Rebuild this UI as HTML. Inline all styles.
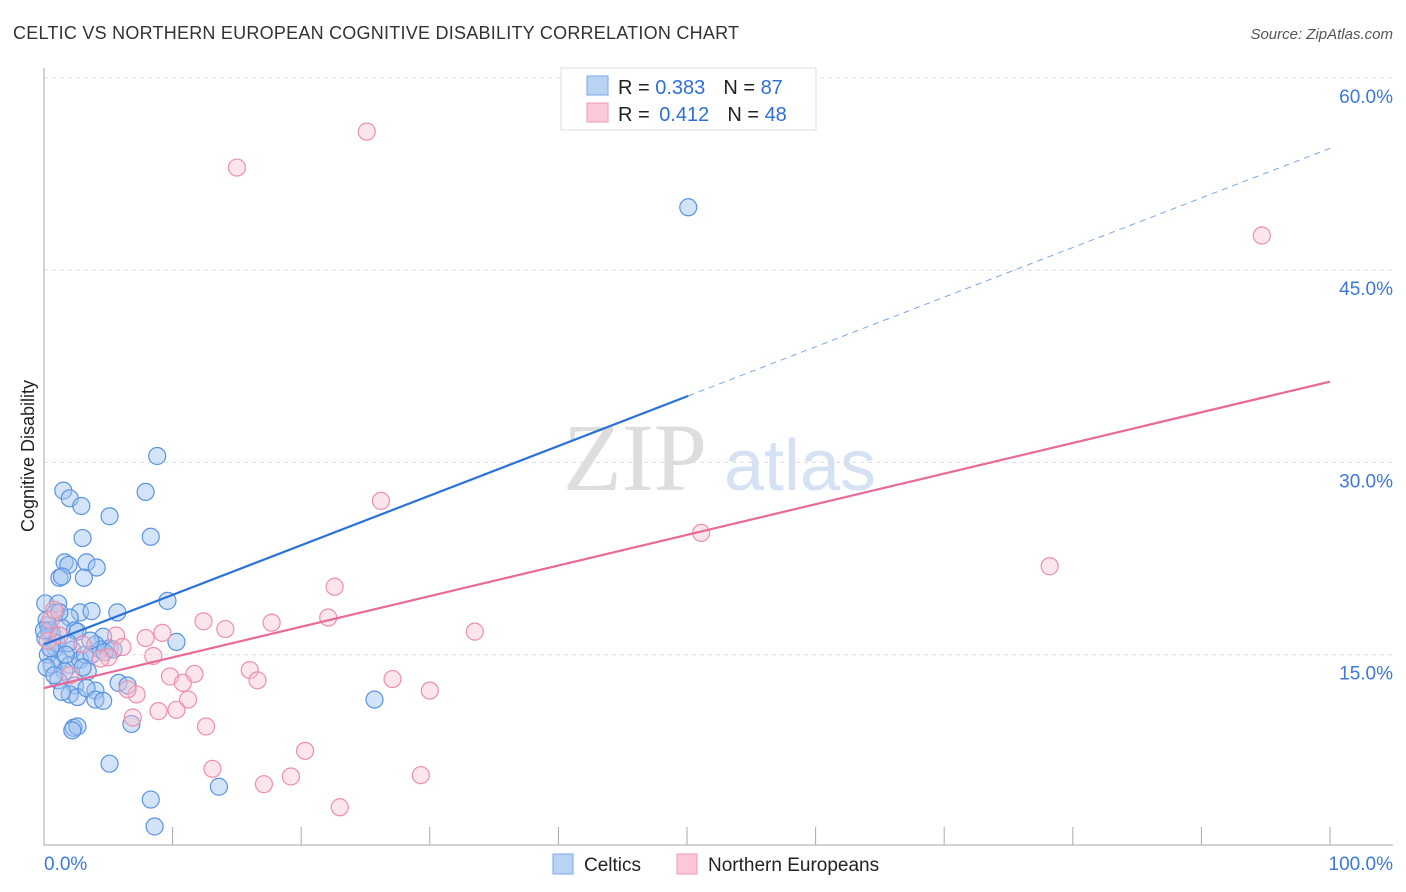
<!DOCTYPE html>
<html><head><meta charset="utf-8"><style>
body{margin:0;background:#fff;font-family:"Liberation Sans",sans-serif;}
svg{display:block}
</style></head><body>
<svg id="chart" width="1406" height="892">
<text x="13" y="39" font-size="18" fill="#333" textLength="726">CELTIC VS NORTHERN EUROPEAN COGNITIVE DISABILITY CORRELATION CHART</text>
<text x="1393" y="39" font-size="15" fill="#555" font-style="italic" text-anchor="end">Source: ZipAtlas.com</text>
<text x="635" y="490" font-size="96" fill="#ddd" font-family="Liberation Serif" text-anchor="middle">ZIP</text>
<text x="800" y="490" font-size="72" fill="#d4e2f4" text-anchor="middle">atlas</text>
<text transform="translate(34,456) rotate(-90)" font-size="18" fill="#222" text-anchor="middle">Cognitive Disability</text>
<g id="grid"></g><g id="axes"></g><g id="pts"></g><g id="lines"></g>
<g>
<rect x="561" y="68" width="255" height="62" fill="#fff" stroke="#ddd"/>
<rect x="587" y="76" width="21" height="19" fill="#b9d3f5" stroke="#7aa6e6"/>
<rect x="587" y="103" width="21" height="19" fill="#fbc8d8" stroke="#ef9ab6"/>
<text x="618" y="94" font-size="20" fill="#222">R = <tspan fill="#2f6fd6">0.383</tspan><tspan dx="18" fill="#222">N = </tspan><tspan fill="#2f6fd6">87</tspan></text>
<text x="618" y="121" font-size="20" fill="#222">R = <tspan dx="4" fill="#2f6fd6">0.412</tspan><tspan dx="18" fill="#222">N = </tspan><tspan fill="#2f6fd6">48</tspan></text>
</g>
<g>
<rect x="553" y="854" width="20" height="20" fill="#b9d3f5" stroke="#7aa6e6"/>
<text x="584" y="871" font-size="19" fill="#222">Celtics</text>
<rect x="677" y="854" width="20" height="20" fill="#fbc8d8" stroke="#ef9ab6"/>
<text x="708" y="871" font-size="19" fill="#222">Northern Europeans</text>
</g>
</svg>
<script>
const blueX=[8.8,1.5,2.0,2.9,7.9,5.1,8.3,3.0,1.6,1.9,3.3,4.1,1.2,1.4,3.1,9.6,0.1,1.1,2.8,3.7,5.7,0.9,2.0,0.3,1.4,2.4,0.6,0.1,2.6,4.6,4.0,5.1,4.4,10.3,0.9,2.2,0.3,1.2,0.6,2.0,2.8,1.6,3.4,0.2,1.1,2.4,4.0,5.8,6.5,2.0,2.6,3.3,4.0,4.6,1.4,2.3,2.6,2.2,6.8,5.1,8.3,13.6,8.6,25.7,50.1,1.0,0.5,3.2,3.7,4.7,5.4,1.9,0.2,0.4,1.7,3.6,0.8,3.0,1.2,0.0];
const blueY=[30.5,27.8,27.2,26.6,27.7,25.8,24.2,24.1,22.2,22.0,22.2,21.8,21.0,21.1,21.0,19.2,19.0,19.0,18.3,18.4,18.3,18.3,17.9,17.3,17.1,16.9,16.7,16.3,16.8,16.4,15.8,15.5,15.4,16.0,15.5,15.4,15.0,14.6,14.2,14.2,14.6,13.7,13.7,14.0,13.0,12.6,12.2,12.8,12.6,11.9,11.7,12.4,11.5,11.4,12.1,9.3,9.4,9.1,9.6,6.5,3.7,4.7,1.6,11.5,49.9,15.9,15.5,15.0,15.0,15.2,15.4,15.9,17.7,16.9,15.0,16.1,13.4,14.0,18.3,16.9];
const pinkX=[25.1,15.0,94.7,26.2,51.1,78.2,22.6,22.1,17.7,33.5,12.4,14.1,9.2,7.9,5.6,6.1,8.5,5.0,9.8,11.7,10.8,16.0,16.6,27.1,30.0,7.2,6.5,11.2,8.9,10.3,6.9,12.6,20.3,13.1,17.1,19.2,29.3,23.0,0.5,0.3,1.2,2.0,4.4,0.8,3.0];
const pinkY=[55.8,53.0,47.7,27.0,24.5,21.9,20.3,17.9,17.5,16.8,17.6,17.0,16.7,16.3,16.5,15.6,14.9,14.8,13.3,13.5,12.8,13.8,13.0,13.1,12.2,11.9,12.3,11.5,10.6,10.7,10.1,9.4,7.5,6.1,4.9,5.5,5.6,3.1,17.7,16.1,16.5,13.4,14.7,18.5,15.8];
const yTicks=[15,30,45,60];
const blueLine=[15.8,54.5]; // y at x=0 and x=100
const blueSolidEnd=50.1;
const pinkLine=[12.4,36.3];
const X=v=>44+v*12.86, Y=v=>847-v*12.82;
const NS='http://www.w3.org/2000/svg';
function mk(t,a,p){const e=document.createElementNS(NS,t);for(const k in a)e.setAttribute(k,a[k]);p.appendChild(e);return e;}
const grid=document.getElementById('grid'),axes=document.getElementById('axes'),pts=document.getElementById('pts'),lines=document.getElementById('lines');
yTicks.forEach(t=>{
 const l=mk('line',{x1:44,x2:1393,y1:Y(t),y2:Y(t),stroke:'#ddd','stroke-dasharray':'4,4'},grid);
 
 
 const tx=mk('text',{x:1393,y:Y(t)+25,'font-size':19,fill:'#3b78d8','text-anchor':'end'},grid);
 tx.textContent=t.toFixed(1)+'%';
 
 
});
mk('line',{x1:44,x2:44,y1:68,y2:845,stroke:'#aaa'},axes);
mk('line',{x1:44,x2:1393,y1:845,y2:845,stroke:'#aaa'},axes);
for(let i=1;i<=10;i++){const t=mk('line',{x1:X(i*10),x2:X(i*10),y1:827,y2:845,stroke:'#aaa'},axes);
 
 }
const xl=mk('text',{x:44,y:870,'font-size':19,fill:'#3b78d8'},axes);xl.textContent='0.0%';


const xr=mk('text',{x:1393,y:870,'font-size':19,fill:'#3b78d8','text-anchor':'end'},axes);xr.textContent='100.0%';


blueX.forEach((v,i)=>{const c=mk('circle',{cx:X(v),cy:Y(blueY[i]),r:8.5,fill:'rgba(160,196,240,0.45)',stroke:'#5b93e0','stroke-width':1.2},pts);
 
 });
pinkX.forEach((v,i)=>{const c=mk('circle',{cx:X(v),cy:Y(pinkY[i]),r:8.5,fill:'rgba(250,190,208,0.4)',stroke:'#ec8fae','stroke-width':1.2},pts);
 
 });
const by=x=>blueLine[0]+(blueLine[1]-blueLine[0])*x/100;
const b1=mk('line',{x1:X(0),y1:Y(by(0)),x2:X(blueSolidEnd),y2:Y(by(blueSolidEnd)),stroke:'#2a72d8','stroke-width':2.2},lines);


const b2=mk('line',{x1:X(blueSolidEnd),y1:Y(by(blueSolidEnd)),x2:X(100),y2:Y(by(100)),stroke:'#7aa6e6','stroke-width':1,'stroke-dasharray':'6,5'},lines);


const p1=mk('line',{x1:X(0),y1:Y(pinkLine[0]),x2:X(100),y2:Y(pinkLine[1]),stroke:'#e8699a','stroke-width':2.2},lines);


</script>
</body></html>
